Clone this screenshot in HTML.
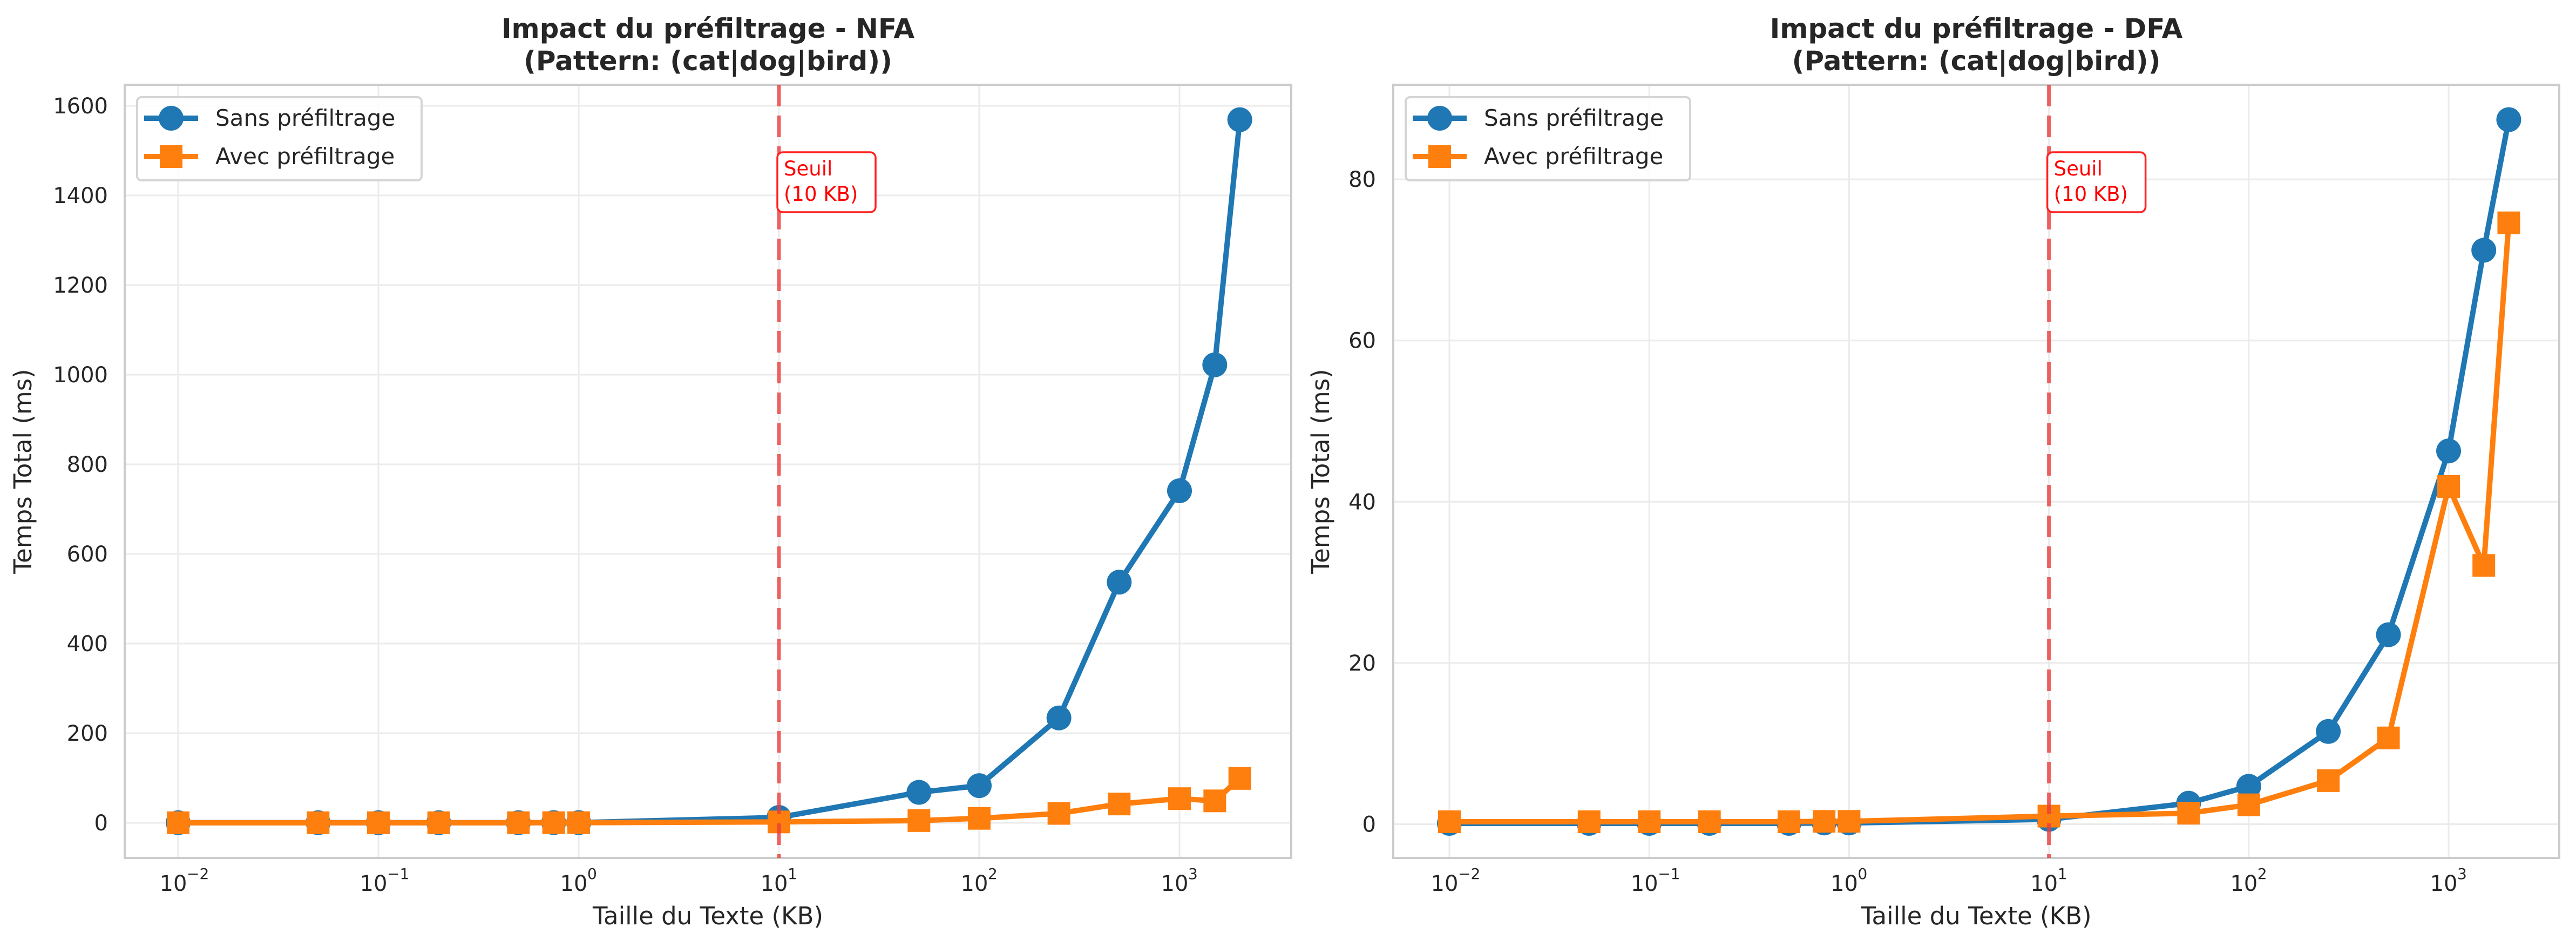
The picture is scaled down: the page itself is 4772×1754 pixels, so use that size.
<!DOCTYPE html>
<html><head><meta charset="utf-8">
<style>
html,body{margin:0;padding:0;background:#fff;}
svg{display:block;font-family:"DejaVu Sans","Liberation Sans",sans-serif;}
</style></head>
<body>
<svg id="fig" width="4772" height="1754" viewBox="0 0 4772 1754" xmlns="http://www.w3.org/2000/svg"></svg>
<script>
const sizes = [0.01, 0.05, 0.1, 0.2, 0.5, 0.75, 1, 10, 50, 100, 250, 500, 1000, 1500, 2000];
const nfaSans = [0.3, 0.3, 0.3, 0.3, 0.3, 0.4, 0.5, 12, 68, 83, 234, 537, 741, 1022, 1569];
const nfaAvec = [0.2, 0.2, 0.2, 0.2, 0.2, 0.3, 0.3, 2, 5, 10, 21, 42, 54, 49, 99];
const dfaSans = [0.1, 0.1, 0.1, 0.1, 0.1, 0.15, 0.15, 0.6, 2.6, 4.7, 11.5, 23.5, 46.3, 71.2, 87.4];
const dfaAvec = [0.3, 0.3, 0.3, 0.3, 0.3, 0.35, 0.35, 1.0, 1.36, 2.4, 5.4, 10.7, 41.9, 32.1, 74.6];
const nfaTicks = [0, 200, 400, 600, 800, 1000, 1200, 1400, 1600];
const dfaTicks = [0, 20, 40, 60, 80];
const xExps = [-2, -1, 0, 1, 2, 3];
const threshold = 10;

const NS = "http://www.w3.org/2000/svg";
const svg = document.getElementById('fig');
function mk(tag, attrs, parent, text) {
  const e = document.createElementNS(NS, tag);
  for (const k in attrs) e.setAttribute(k, attrs[k]);
  if (text !== undefined) e.textContent = text;
  (parent || svg).appendChild(e);
  return e;
}

function panel(cfg) {
  const g = mk('g', {});
  
  
  const L = cfg.left, R = cfg.right, T = 157, B = 1589;
  const xs = v => cfg.x0 + (Math.log10(v) + 2) * cfg.dec;
  const ys = v => cfg.y0 - v * cfg.k;
  cfg.ticks.forEach(t => {
    const l = mk('line', {x1: L, x2: R, y1: ys(t), y2: ys(t), stroke: '#ebebeb', 'stroke-width': 3}, g);
    
    
    const tx = mk('text', {x: cfg.tickRight, y: ys(t) + 14, 'text-anchor': 'end', 'font-size': 40, fill: '#262626'}, g, String(t));
    
    
  });
  xExps.forEach(e => {
    const x = xs(Math.pow(10, e));
    const l = mk('line', {x1: x, x2: x, y1: T, y2: B, stroke: '#ebebeb', 'stroke-width': 3}, g);
    
    
    const tx = mk('text', {x: x - 9, y: 1650, 'text-anchor': 'middle', 'font-size': 40, fill: '#262626'}, g, '10');
    
    
    const sup = mk('text', {x: x + 16, y: 1628, 'text-anchor': 'start', 'font-size': 28, fill: '#262626'}, g, e < 0 ? '\u2212' + (-e) : String(e));
    
    
  });
  const fr = mk('rect', {x: L, y: T, width: R - L, height: B - T, fill: 'none', stroke: '#cccccc', 'stroke-width': 4}, g);
  
  
  function series(vals, color, marker, nm) {
    const sg = mk('g', {}, g);
    
    
    const pts = sizes.map((s, i) => xs(s) + ',' + ys(vals[i])).join(' ');
    const pl = mk('polyline', {points: pts, fill: 'none', stroke: color, 'stroke-width': 10, 'stroke-linejoin': 'round'}, sg);
    
    
    sizes.forEach((s, i) => {
      let m;
      if (marker === 'o') m = mk('circle', {cx: xs(s), cy: ys(vals[i]), r: 23, fill: color}, sg);
      else m = mk('rect', {x: xs(s) - 21, y: ys(vals[i]) - 21, width: 42, height: 42, fill: color}, sg);
      
      
    });
  }
  series(cfg.sans, '#1f77b4', 'o', 'series-sans');
  series(cfg.avec, '#ff7f0e', 's', 'series-avec');
  const tx0 = xs(threshold);
  const th = mk('line', {x1: tx0, x2: tx0, y1: T, y2: B, stroke: 'rgb(235,60,60)', 'stroke-opacity': 0.8, 'stroke-width': 7, 'stroke-dasharray': '40,17'}, g);
  
  
  const tb = mk('rect', {x: tx0 - 3, y: 282, width: 182, height: 111, rx: 10, fill: '#fff', stroke: '#ff2020', 'stroke-width': 3.5}, g);
  
  
  const t1 = mk('text', {x: tx0 + 9, y: 325, 'font-size': 37, fill: '#ff0000'}, g, 'Seuil');
  
  
  const t2 = mk('text', {x: tx0 + 9, y: 372, 'font-size': 37, fill: '#ff0000'}, g, '(10 KB)');
  
  
  const lg = mk('g', {}, g);
  
  
  const lx = L + 23;
  mk('rect', {x: lx, y: 180, width: 527, height: 154, rx: 8, fill: '#fff', 'fill-opacity': 0.85, stroke: '#d5d5d5', 'stroke-width': 4}, lg);
  const e1 = mk('g', {}, lg);
  
  
  mk('line', {x1: lx + 13, x2: lx + 113, y1: 219, y2: 219, stroke: '#1f77b4', 'stroke-width': 10}, e1);
  mk('circle', {cx: lx + 63, cy: 219, r: 23, fill: '#1f77b4'}, e1);
  mk('text', {x: lx + 145, y: 233, 'font-size': 42, fill: '#262626'}, e1, 'Sans préfiltrage');
  const e2 = mk('g', {}, lg);
  
  
  mk('line', {x1: lx + 13, x2: lx + 113, y1: 290, y2: 290, stroke: '#ff7f0e', 'stroke-width': 10}, e2);
  mk('rect', {x: lx + 42, y: 269, width: 42, height: 42, fill: '#ff7f0e'}, e2);
  mk('text', {x: lx + 145, y: 304, 'font-size': 42, fill: '#262626'}, e2, 'Avec préfiltrage');
  const cx = (L + R) / 2;
  const ti = mk('text', {x: cx, y: 70, 'text-anchor': 'middle', 'font-size': 50, 'font-weight': 'bold', fill: '#262626'}, g, cfg.title);
  
  
  const ti2 = mk('text', {x: cx, y: 130, 'text-anchor': 'middle', 'font-size': 50, 'font-weight': 'bold', fill: '#262626'}, g, '(Pattern: (cat|dog|bird))');
  
  
  const xl = mk('text', {x: cx, y: 1712, 'text-anchor': 'middle', 'font-size': 45, fill: '#262626'}, g, 'Taille du Texte (KB)');
  
  
  const yl = mk('text', {x: 0, y: 0, 'text-anchor': 'middle', 'font-size': 45, fill: '#262626', transform: 'translate(' + cfg.ylabX + ',' + ((T + B) / 2) + ') rotate(-90)'}, g, 'Temps Total (ms)');
  
  
}

panel({name: 'nfa-panel', title: 'Impact du préfiltrage - NFA', left: 231, right: 2392, x0: 330, dec: 371, y0: 1524, k: 0.830,
  ticks: nfaTicks, sans: nfaSans, avec: nfaAvec, tickRight: 200, ylabX: 58});
panel({name: 'dfa-panel', title: 'Impact du préfiltrage - DFA', left: 2581, right: 4741, x0: 2685, dec: 370.2, y0: 1526.5, k: 14.93,
  ticks: dfaTicks, sans: dfaSans, avec: dfaAvec, tickRight: 2549, ylabX: 2462});
</script>
</body></html>
